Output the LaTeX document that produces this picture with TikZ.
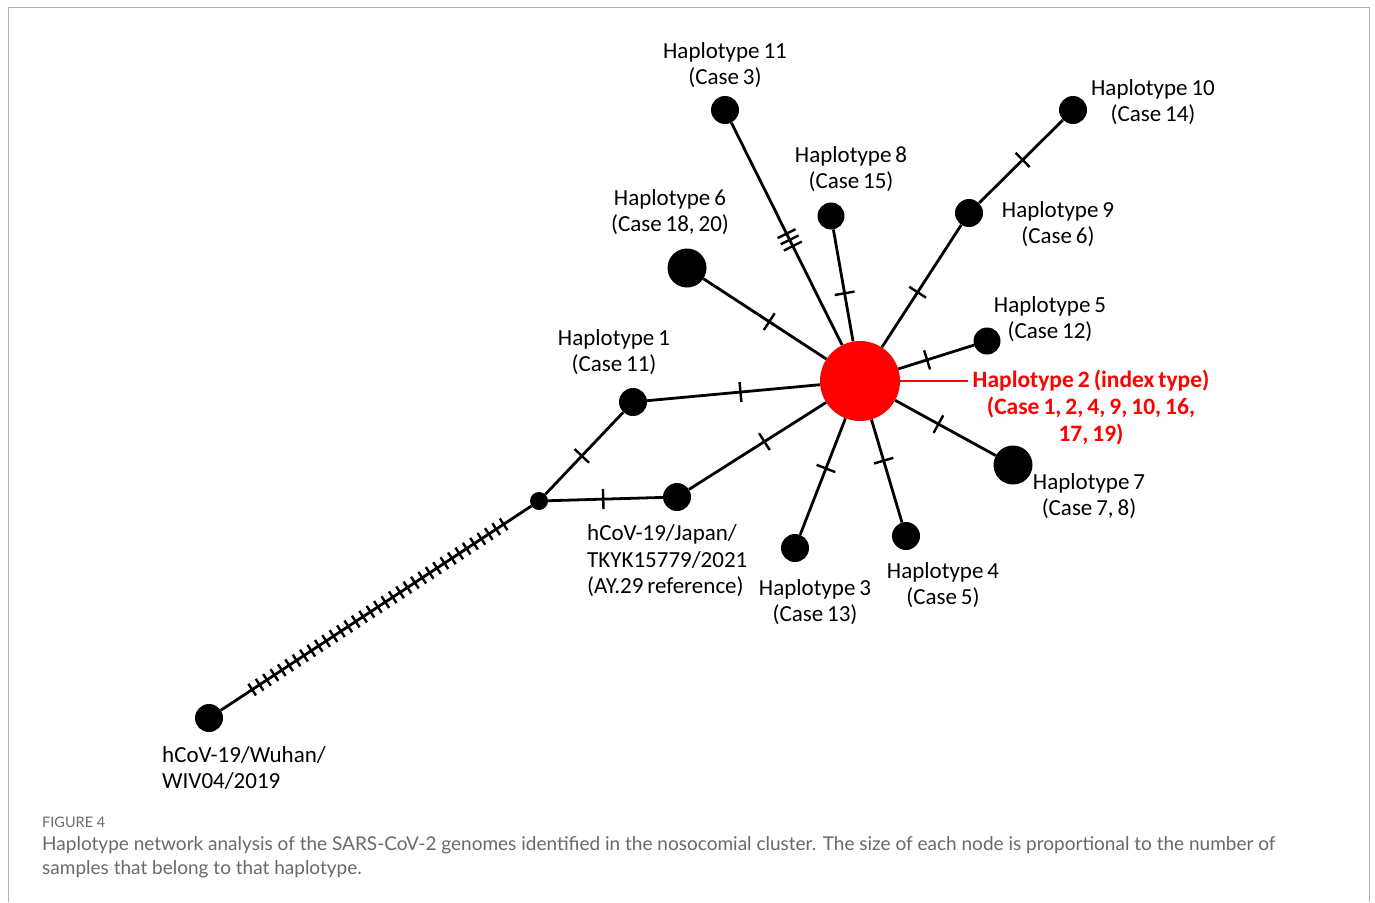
\documentclass[tikz,border=0pt]{standalone}
\usepackage{fontspec}
\setmainfont{Carlito}[WordSpace=0.75]
\newfontfamily\capfont{Lato}
\usepackage{xcolor}
\usepackage{tikz}
\usetikzlibrary{decorations.markings}
\definecolor{hubred}{RGB}{255,0,0}
\definecolor{framegray}{RGB}{178,178,178}
\definecolor{capgray}{RGB}{105,105,105}

\begin{document}
\begin{tikzpicture}[x=1pt, y=-1pt,
  hap/.style={circle, fill=black, inner sep=0pt, minimum size=28pt},
  bighap/.style={hap, minimum size=39pt},
  lbl/.style={align=center, font=\fontsize{23}{26.5}\selectfont, inner sep=0pt},
  link/.style={line width=2.8pt},
  mut/.style={postaction={decorate, decoration={markings, mark=at position #1 with {\draw[line width=2.4pt] (0,-10pt) -- (0,10pt);}}}},
  mutrun/.style n args={3}{postaction={decorate, decoration={markings, mark=between positions #1 and #2 step #3 with {\draw[line width=2.4pt] (0,-7pt) -- (0,7pt);}}}}
]
\useasboundingbox (0,0) rectangle (1375,902);
% frame of the figure panel (open at the bottom)
\draw[framegray, line width=1.5pt] (8.5,902) -- (8.5,7.5) -- (1369.5,7.5) -- (1369.5,902);

% haplotype nodes at explicit pixel positions
\node[circle, fill=hubred, inner sep=0pt, minimum size=80pt] (hub) at (860,381) {};
\node[hap] (wuhan) at (209,718) {};
\node[hap, minimum size=18pt] (mv) at (539,501) {};
\node[hap] (ay29) at (677,497) {};
\node[hap] (h1) at (633,402) {};
\node[bighap] (h6) at (687,268) {};
\node[hap] (h11) at (725,110) {};
\node[hap, minimum size=27pt] (h8) at (831,216) {};
\node[hap] (h9) at (969,213) {};
\node[hap] (h10) at (1073,110) {};
\node[hap, minimum size=27pt] (h5) at (987,341) {};
\node[bighap] (h7) at (1013,465) {};
\node[hap] (h4) at (906,536) {};
\node[hap] (h3) at (795,548) {};

% links with mutation ticks
\draw[link, mutrun={37.5pt}{339pt}{8.85pt}] (wuhan) -- (mv);
\draw[link, mut=0.48] (mv) -- (ay29);
\draw[link, mut=0.47] (mv) -- (h1);
\draw[link, mut=0.54] (h1) -- (hub);
\draw[link, mut=0.55] (ay29) -- (hub);
\draw[link, mut=0.535] (h6) -- (hub);
\draw[link, mut=0.499, mut=0.527, mut=0.555] (h11) -- (hub);
\draw[link, mut=0.57] (h8) -- (hub);
\draw[link, mut=0.55] (h9) -- (hub);
\draw[link, mut=0.52] (h9) -- (h10);
\draw[link, mut=0.62] (h5) -- (hub);
\draw[link, mut=0.57] (h7) -- (hub);
\draw[link, mut=0.60] (h4) -- (hub);
\draw[link, mut=0.57] (h3) -- (hub);

% labels
\node[lbl] (h11lbl) at (725,65) {Haplotype 11\\(Case 3)};
\node[lbl] (h10lbl) at (1153,102) {Haplotype 10\\(Case 14)};
\node[lbl] (h8lbl) at (851,169) {Haplotype 8\\(Case 15)};
\node[lbl] (h9lbl) at (1058,224) {Haplotype 9\\(Case 6)};
\node[lbl] (h6lbl) at (670,212) {Haplotype 6\\(Case 18, 20)};
\node[lbl] (h5lbl) at (1050,319) {Haplotype 5\\(Case 12)};
\node[lbl] (h1lbl) at (614,352) {Haplotype 1\\(Case 11)};
\node[lbl, text=hubred, font=\bfseries\fontsize{23.5}{27}\selectfont] (h2lbl) at (1091,408)
  {Haplotype 2 (index type)\\(Case 1, 2, 4, 9, 10, 16,\\17, 19)};
\node[lbl] (h7lbl) at (1089,496) {Haplotype 7\\(Case 7, 8)};
\node[lbl, anchor=west, align=left] (ay29lbl) at (587,561) {hCoV-19/Japan/\\TKYK15779/2021\\(AY.29 reference)};
\node[lbl] (h3lbl) at (815,602) {Haplotype 3\\(Case 13)};
\node[lbl] (h4lbl) at (943,585) {Haplotype 4\\(Case 5)};
\node[lbl, anchor=west, align=left] (wuhanlbl) at (162,768) {hCoV-19/Wuhan/\\WIV04/2019};
\draw[hubred, line width=1.6pt, shorten >=4pt] (hub.east) -- (hub.east -| h2lbl.west);

% caption
\node[anchor=west, inner sep=0pt, text=capgray, font=\capfont\fontsize{14.5}{16}\selectfont] (fig) at (42,822) {FIGURE 4};
\node[anchor=north west, inner sep=0pt, align=left, text=capgray, font=\capfont\fontsize{19}{24}\selectfont] (cap) at (42,836)
  {Haplotype network analysis of the SARS-CoV-2 genomes identified in the nosocomial cluster. The size of each node is proportional to the number of\\samples that belong to that haplotype.};
\end{tikzpicture}
\end{document}
